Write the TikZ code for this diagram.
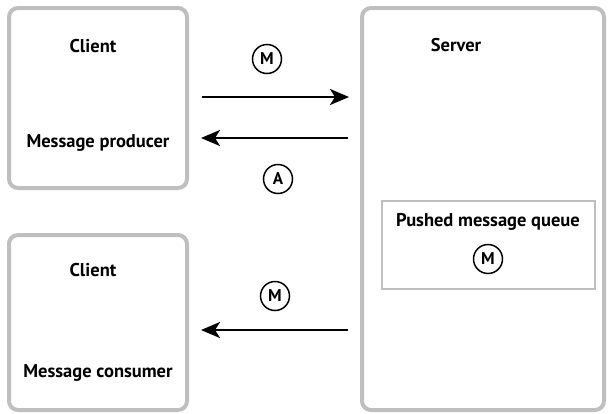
\documentclass[tikz,border=0pt]{standalone}
\usepackage{fontspec}
\setmainfont{PT Sans}
\usetikzlibrary{arrows.meta}
\begin{document}
\begin{tikzpicture}[x=1pt,y=-1pt,
  bigbox/.style={draw=black!25,line width=4pt,rounded corners=9pt},
  qbox/.style={draw=black!25,line width=2pt},
  lbl/.style={font=\fontsize{18.5}{20}\selectfont\bfseries,inner sep=0pt},
  msg/.style={circle,draw=black,line width=1.5pt,minimum size=29pt,inner sep=0pt,font=\fontsize{17}{19}\selectfont\bfseries},
  arr/.style={line width=2.6pt,-{Stealth[length=19pt,width=16pt,inset=5pt]}}]
\useasboundingbox (0,0) rectangle (608,413);
% boxes
\draw[bigbox] (9,8) rectangle (187,188);
\draw[bigbox] (9,235) rectangle (187,410);
\draw[bigbox] (362,8) rectangle (604,410);
\draw[qbox] (382,201) rectangle (595,289);
% labels
\node[lbl] (c1) at (93,46) {Client};
\node[lbl] (p1) at (98,143) {Message producer};
\node[lbl] (c2) at (93,270) {Client};
\node[lbl] (p2) at (98,373) {Message consumer};
\node[lbl] (srv) at (456,45) {Server};
\node[lbl] (q) at (488,222) {Pushed message queue};
% message circles
\node[msg] (m1) at (267,59) {M};
\node[msg] (a1) at (278,179) {A};
\node[msg] (m2) at (275,296) {M};
\node[msg] (m3) at (488,259) {M};
% arrow ends
\coordinate (s1) at (202,97);
\coordinate (e1) at (349,97);
\coordinate (s2) at (348,138);
\coordinate (e2) at (201,138);
\coordinate (s3) at (348,330);
\coordinate (e3) at (201,330);
\draw[arr] (s1) -- (e1);
\draw[arr] (s2) -- (e2);
\draw[arr] (s3) -- (e3);
\end{tikzpicture}
\end{document}
